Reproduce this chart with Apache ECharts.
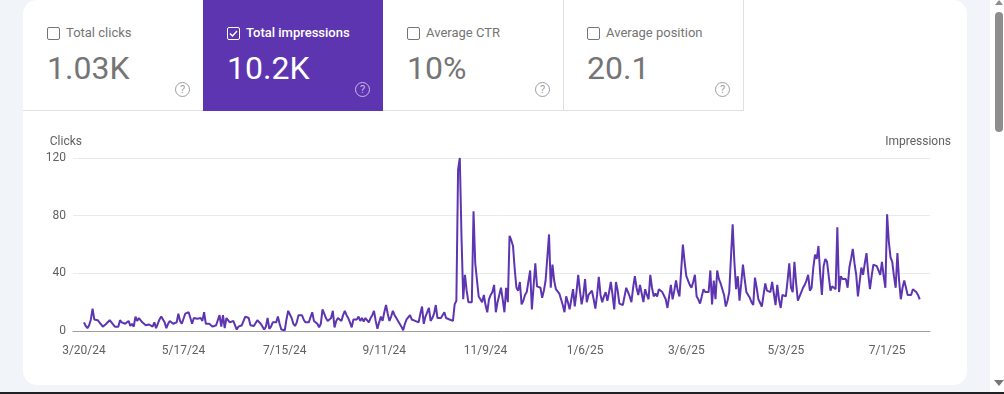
<!DOCTYPE html>
<html>
<head>
<meta charset="utf-8">
<script src="https://cdn.jsdelivr.net/npm/echarts@6/dist/echarts.min.js"></script>
<style>
html, body { margin: 0; padding: 0; width: 1004px; height: 394px; overflow: hidden; background: #f1f4f9; font-family: Roboto, sans-serif; }
#card { position: absolute; left: 23px; top: 0; width: 944px; height: 385px; background: #fff; border-radius: 14px; }
#result { position: absolute; left: 0; top: 0; width: 1004px; height: 394px; }
.tab { position: absolute; top: 0; width: 180px; height: 110px; border-bottom: 1px solid #e0e0e0; border-right: 1px solid #e0e0e0; box-sizing: content-box; color: #757575; }
.tab.first { border-top-left-radius: 14px; }
.tab.on { background: #5e35b1; color: #fff; border: 0; height: 111px; }
.box { position: absolute; left: 24px; top: 27px; width: 11px; height: 11px; border: 1.5px solid #757575; border-radius: 2px; }
.on .box { border-color: #fff; }
.box svg { position: absolute; left: 0; top: 0; }
.label { position: absolute; left: 43px; top: 25px; font-size: 13px; line-height: 16px; white-space: nowrap; }
.num { position: absolute; left: 24px; top: 49px; font-size: 32px; line-height: 38px; white-space: nowrap; }
.help { position: absolute; left: 152px; top: 82px; width: 13px; height: 13px; border: 1.2px solid #9e9e9e; border-radius: 50%; color: #9e9e9e; font-size: 11px; line-height: 13px; text-align: center; }
.on .help { border-color: #cbb9ec; color: #cbb9ec; }
#track { position: absolute; left: 990px; top: 0; width: 14px; height: 392px; background: #fff; }
#thumb { position: absolute; left: 5px; top: 12px; width: 8px; height: 120px; background: #8e8e8e; border-radius: 4px; }
#up { position: absolute; left: 5px; top: 0; border: 4px solid transparent; border-top: 0; border-bottom: 5px solid #8e8e8e; }
#down { position: absolute; left: 4px; top: 380px; border: 5px solid transparent; border-bottom: 0; border-top: 6px solid #777; }
#edge { position: absolute; left: 0; top: 392px; width: 1004px; height: 2px; background: #202124; }
</style>
</head>
<body>
<div id="card"></div>
<div id="tabs"></div>
<div id="result"></div>
<div id="track"><div id="up"></div><div id="thumb"></div><div id="down"></div></div>
<div id="edge"></div>
<script>
var tabNames = ['Total clicks', 'Total impressions', 'Average CTR', 'Average position'];
var tabValues = ['1.03K', '10.2K', '10%', '20.1'];
var activeTab = 1;

var tickDays = [0, 58, 117, 175, 234, 292, 351, 409, 468];
var tickLabels = ['3/20/24', '5/17/24', '7/15/24', '9/11/24', '11/9/24', '1/6/25', '3/6/25', '5/3/25', '7/1/25'];
var yTicks = [0, 40, 80, 120];

// daily impressions, ten days per row
var impressions = [
    6, 3.5, 2, 4, 8, 15.5, 8, 7, 7.5, 6,
    7, 3, 2, 5, 6, 7.5, 6, 5, 3, 2,
    3, 7.5, 6, 6, 5, 5.5, 7, 3.5, 5, 3,
    10, 7, 9, 8, 6, 5, 4, 4, 4.5, 5,
    3, 6, 2, 5, 8, 10, 9.5, 6, 2, 5,
    7, 8, 5, 4, 6, 12, 7, 5, 6, 12,
    13, 13, 9, 5, 9, 8, 8.5, 9, 9, 7,
    13, 5, 6, 5, 5, 3, 2.5, 4, 5, 11,
    3, 11, 2, 9, 8, 6, 5, 7, 4, 1,
    3, 3, 4, 7, 10, 11, 9, 4, 3.5, 3.5,
    4, 7.5, 7.5, 5, 4, 1, 3, 9, 1.5, 3,
    6, 5.5, 6, 10, 5, 1, 0.5, 0.5, 8, 14,
    13, 9, 5, 3.5, 6, 11, 12, 11, 8, 6,
    6, 6, 5, 13, 7, 8, 5, 2.5, 5, 15,
    12, 9, 7, 6, 9, 14, 2.5, 7, 9, 8,
    7, 11, 14, 11, 9, 6, 2.5, 8, 7, 8,
    10, 7, 9, 6.5, 9, 8, 6, 9, 11, 14,
    7, 1.5, 6, 10, 7, 13, 18, 12, 7, 10,
    14, 11, 9, 7, 6, 3, 0.5, 5, 8, 8,
    11, 8, 7, 7, 7, 6, 12, 17, 5, 10,
    9, 16, 7, 9, 12, 18, 9, 10, 9, 10,
    13, 9, 8, 8, 7.5, 7, 18.5, 21, 112, 120,
    65, 22, 39, 28, 20, 21, 20, 83, 47, 47,
    24, 22, 20, 25, 18, 13, 22, 25, 27, 32,
    13, 20, 25, 30, 22, 13, 30, 20, 66, 63,
    59, 43, 30, 28, 34, 18.5, 21, 25, 27, 26,
    42, 15, 15, 47, 31, 32, 30, 23, 28, 35,
    34, 67, 30, 46, 35, 29, 28, 26, 22, 18,
    13, 24, 20, 15, 22, 29, 17, 27, 39, 28,
    18.5, 25, 36, 20, 25, 26, 28, 22, 15.5, 25,
    37.5, 25, 20, 24, 27, 21, 27, 34, 25, 15,
    34, 28, 19, 18.5, 18, 24, 30, 27, 24, 20,
    30, 38, 30, 25, 32, 26, 20, 29, 25, 22,
    39, 30, 24, 26, 24, 29, 28, 27, 28, 22,
    16, 24, 32, 22, 28, 35, 28, 24, 42, 60,
    48, 38, 37, 32, 30, 34, 39, 24, 22, 19,
    24, 29, 27, 28, 27, 42, 18.5, 35, 22, 42,
    36, 33, 32, 25, 17, 21, 27, 26, 74, 48,
    29, 38, 21, 33, 46, 36, 27, 25, 23, 20,
    18, 37, 30, 22, 22, 17, 25, 33, 28, 27,
    27, 34, 26, 18, 32, 22, 16, 25, 24, 24,
    35, 47, 30, 27, 48, 33, 21, 24, 27, 30,
    32, 35, 39, 28, 30, 44, 53, 50, 59, 40,
    25, 45, 50, 48, 47, 28, 31, 30, 29, 72,
    27, 38, 36, 37, 36, 30, 44, 50, 57, 47,
    39, 24, 34, 44, 39, 47, 54, 40, 29, 38,
    46, 46, 45, 46, 39, 48, 38, 30, 81, 62,
    51, 48, 38, 30, 54, 35, 22, 30, 35, 35,
    25, 26, 25, 29, 28, 27, 25, 22
];

// metric tabs above the chart
var tabsEl = document.getElementById('tabs');
tabNames.forEach(function (name, i) {
    var on = i === activeTab;
    var tick = on ? '<svg width="11" height="11" viewBox="0 0 11 11"><path d="M2 5.5 L4.5 8 L9 3" fill="none" stroke="#fff" stroke-width="1.5"/></svg>' : '';
    var cls = 'tab' + (on ? ' on' : '') + (i === 0 ? ' first' : '');
    tabsEl.innerHTML += '<div class="' + cls + '" style="left:' + (23 + i * 180) + 'px">'
        + '<div class="box">' + tick + '</div>'
        + '<div class="label"' + (on ? ' style="font-weight:500"' : '') + '>' + name + '</div>'
        + '<div class="num">' + tabValues[i] + '</div>'
        + '<div class="help">?</div></div>';
});

var myChart = echarts.init(document.getElementById('result'), null, { renderer: 'canvas' });

myChart.setOption({
    animation: false,
    backgroundColor: 'transparent',
    textStyle: { fontFamily: 'Roboto' },
    grid: {
        left: 73,
        right: 74,
        top: 158,
        height: 173,
        containLabel: false
    },
    xAxis: {
        type: 'value',
        min: -6.4,
        max: 493,
        splitLine: { show: false },
        axisTick: { show: false },
        axisLine: { onZero: false, lineStyle: { color: '#9e9e9e' } },
        axisLabel: {
            customValues: tickDays,
            color: '#616161',
            fontSize: 12,
            margin: 14,
            formatter: function (value) {
                return tickLabels[tickDays.indexOf(value)];
            }
        }
    },
    yAxis: [
        {
            type: 'value',
            name: 'Clicks',
            nameGap: 10,
            nameTextStyle: { align: 'right', color: '#616161', fontSize: 12, padding: [0, 2, 0, 0] },
            min: 0,
            max: 120,
            interval: 40,
            axisLine: { show: false },
            axisTick: { show: false },
            axisLabel: { color: '#616161', fontSize: 12, margin: 7 },
            splitLine: { lineStyle: { color: '#e8eaed' } }
        },
        {
            type: 'value',
            name: 'Impressions',
            nameGap: 10,
            nameTextStyle: { align: 'right', color: '#616161', fontSize: 12 },
            position: 'right',
            offset: 21,
            min: 0,
            max: 120,
            interval: 40,
            axisLine: { show: false },
            axisTick: { show: false },
            axisLabel: { show: false },
            splitLine: { show: false }
        }
    ],
    series: [
        {
            name: 'Impressions',
            type: 'line',
            symbol: 'none',
            lineStyle: { color: '#5e35b1', width: 2 },
            data: impressions.map(function (v, i) { return [i, v]; })
        }
    ]
});
</script>
</body>
</html>
